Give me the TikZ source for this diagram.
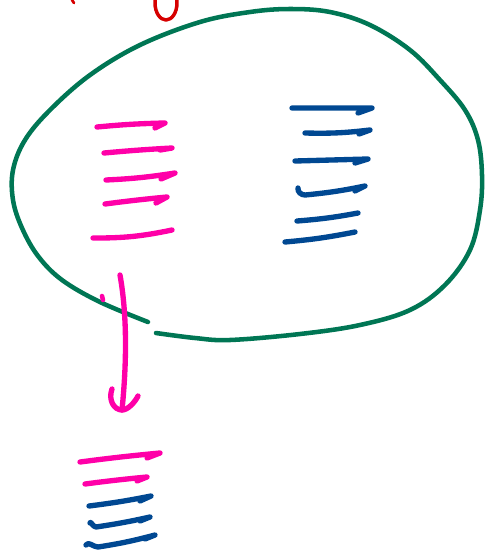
\documentclass[tikz,border=0pt]{standalone}
\usetikzlibrary{positioning}
\definecolor{vert}{RGB}{0,118,84}
\definecolor{rose}{RGB}{255,0,168}
\definecolor{bleu}{RGB}{0,72,146}
\definecolor{rouge}{RGB}{214,0,0}
\begin{document}
\begin{tikzpicture}[x=0.75pt,y=-0.75pt,line cap=round,line join=round,
  contour/.style={draw=vert,line width=3.4pt},
  trait/.style={line width=4pt},
  trait rose/.style={trait,draw=rose},
  trait bleu/.style={trait,draw=bleu}]

\tikzset{fleche/.style={rose,line width=4pt}}

\useasboundingbox (0,0) rectangle (495,558);
\clip (0,0) rectangle (495,558);

% le zero en haut
\draw[rouge,line width=2.6pt] (166,3) ellipse (11 and 17);
\draw[rouge,line width=2pt] (72,0) -- (74,3);

% l'ensemble
\draw[contour] plot[smooth,tension=0.6] coordinates {(156,333) (195,338) (230,340) (300,334) (360,325)
  (410,310) (445,285) (470,250) (480,210) (482,175) (478,140) (465,110) (440,80) (410,50)
  (370,25) (330,12) (290,9) (250,12) (200,22) (140,45) (90,75) (50,110) (25,140) (13,170)
  (13,200) (22,228) (38,256) (62,280) (100,302) (148,322)};

% traits roses
\draw[trait rose] (97,127) to[bend left=2] (165,123) -- (155,128);
\draw[trait rose] (104,153) to[bend left=1] (172,148) -- (160,150);
\draw[trait rose] (106,180) to[bend right=3] (175,173) -- (161,179);
\draw[trait rose] (105,204) to[bend left=1] (167,197) -- (156,203);
\draw[trait rose] (93,238) to[bend right=6] (172,230);

% traits bleus
\draw[trait bleu] (292,108) -- (372,108) -- (358,113);
\draw[trait bleu] (305,133) to[bend right=4] (370,130) -- (359,134);
\draw[trait bleu] (295,161) -- (368,159) -- (355,163);
\draw[trait bleu] (298,188) to[out=260,in=180] (305,195) to[bend right=3] (365,186) -- (355,191);
\draw[trait bleu] (297,221) to[bend right=3] (358,213);
\draw[trait bleu] (285,242) to[bend right=3] (355,232);

% la fleche
\coordinate (depart) at (120,275);
\coordinate (arrivee) at (122,410);
\draw[fleche] (depart) .. controls (128,320) and (126,370) .. (arrivee);
\draw[fleche] (112,389) .. controls (108,400) and (114,410) .. (arrivee)
  .. controls (128,410) and (135,402) .. (138,396);
\draw[rose,line width=3.4pt] (102,296) -- (103,300);

% traits du bas
\draw[trait rose] (80,462) to[bend left=1] (160,453) -- (147,458);
\draw[trait rose] (85,484) to[bend left=1] (147,477) -- (137,481);
\draw[trait bleu] (89,506) to[bend right=2] (151,496) -- (140,501);
\draw[trait bleu] (90,523) to[out=90,in=180] (96,527) to[bend right=2] (150,517) -- (140,521);
\draw[trait bleu] (86,545) to[out=60,in=180] (98,547) to[bend right=3] (155,535) -- (145,539);
\end{tikzpicture}
\end{document}
